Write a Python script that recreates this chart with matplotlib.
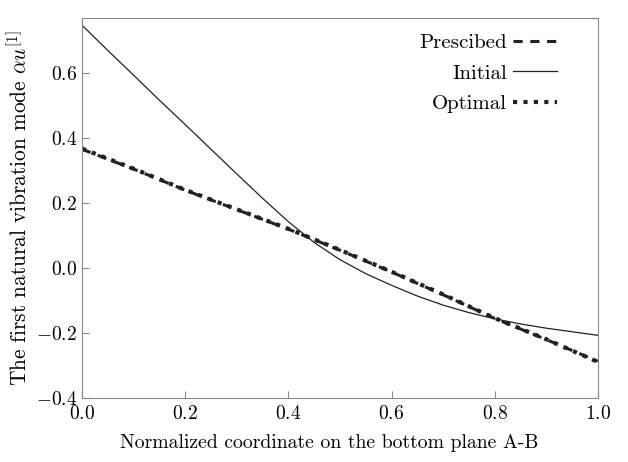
import matplotlib
matplotlib.use("Agg")
import matplotlib.pyplot as plt

# values
x_init = [0.0, 0.05, 0.1, 0.15, 0.2, 0.25, 0.3, 0.35, 0.4, 0.45, 0.5,
          0.55, 0.6, 0.65, 0.7, 0.75, 0.8, 0.85, 0.9, 0.95, 1.0]
initial = [0.748, 0.67, 0.594, 0.517, 0.442, 0.366, 0.29, 0.215, 0.143, 0.079, 0.026,
           -0.017, -0.053, -0.086, -0.114, -0.137, -0.156, -0.172, -0.185, -0.196, -0.207]
x = [0.0, 0.1, 0.2, 0.3, 0.4, 0.5, 0.6, 0.7, 0.8, 0.9, 1.0]
prescribed = [0.366, 0.305, 0.24, 0.18, 0.12, 0.055, -0.012, -0.082, -0.155, -0.22, -0.287]
optimal = [0.368, 0.306, 0.241, 0.181, 0.121, 0.056, -0.011, -0.081, -0.154, -0.219, -0.289]

plt.rcParams["font.family"] = "serif"
plt.rcParams["font.serif"] = ["cmr10", "DejaVu Serif"]
plt.rcParams["mathtext.fontset"] = "cm"
plt.rcParams["axes.formatter.use_mathtext"] = True

fig = plt.figure(figsize=(6.28, 4.62), dpi=100)
ax = fig.add_axes([0.1306, 0.1385, 0.8214, 0.8225])

ax.plot(x, prescribed, color="#222222", linestyle=(0, (3, 2.5)), linewidth=2.2, label="Prescibed")
ax.plot(x_init, initial, color="#222222", linestyle="-", linewidth=0.9, label="Initial")
ax.plot(x, optimal, color="#222222", linestyle=(0, (1, 1.5)), linewidth=3, label="Optimal")

ax.set_xlim(0.0, 1.0)
ax.set_ylim(-0.4, 0.77)
ax.set_xticks([0.0, 0.2, 0.4, 0.6, 0.8, 1.0])
ax.set_yticks([-0.4, -0.2, 0.0, 0.2, 0.4, 0.6])
ax.tick_params(direction="in", length=5, color="#888888", labelsize=14)
ax.tick_params(axis="x", pad=5)
for s in ax.spines.values():
    s.set_color("#888888")

ax.set_xlabel("Normalized coordinate on the bottom plane A-B", fontsize=14.2)
ax.xaxis.set_label_coords(0.48, -0.095)
ax.set_ylabel(r"The first natural vibration mode $\alpha u^{[1]}$", fontsize=15.4)
ax.yaxis.set_label_coords(-0.098, 0.5)

ax.legend(loc="upper right", bbox_to_anchor=(0.957, 1.008), frameon=False, markerfirst=False,
          fontsize=15, handlelength=2.1, handletextpad=0.3, labelspacing=0.56)

fig.savefig("out.png", dpi=100)
